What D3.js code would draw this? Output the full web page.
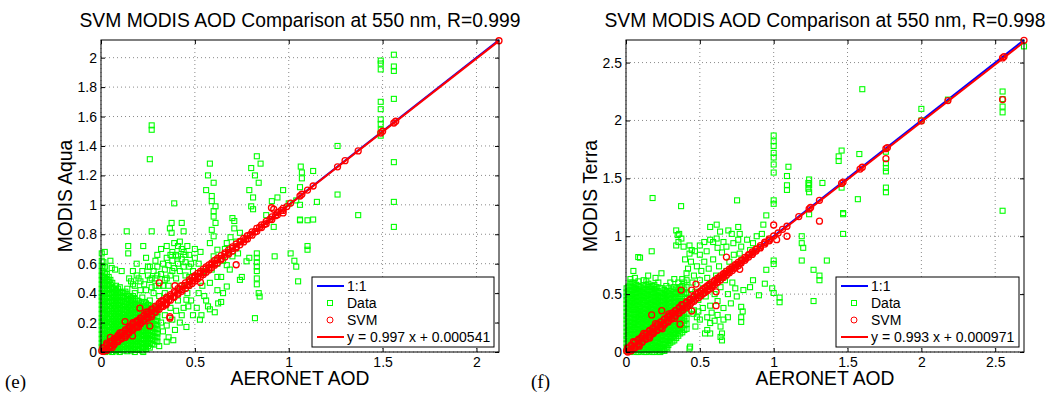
<!DOCTYPE html>
<html>
<head>
<meta charset="utf-8">
<script src="https://cdn.jsdelivr.net/npm/d3@7"></script>
<style>
  body { margin: 0; background: #fff; }
  text { font-family: "Liberation Sans", Arial, Helvetica, sans-serif; fill: #000; }
</style>
</head>
<body>
<svg id="chart" width="1054" height="398"></svg>
<script>
// ---- data ----
const aquaTitle = 'SVM MODIS AOD Comparison at 550 nm, R=0.999';
const terraTitle = 'SVM MODIS AOD Comparison at 550 nm, R=0.998';
const legendNames = ['1:1', 'Data', 'SVM'];

const aquaMax = 2.12;
const terraMax = 2.695;
const aquaXTicks = [0, 0.5, 1, 1.5, 2];
const aquaYTicks = [0, 0.2, 0.4, 0.6, 0.8, 1, 1.2, 1.4, 1.6, 1.8, 2];
const terraTicks = [0, 0.5, 1, 1.5, 2, 2.5];

// fit: [slope, intercept]
const aquaFit = [0.997, 0.000541];
const terraFit = [0.993, 0.000971];

// dense part of the green cloud, as [x, [y, ...]] columns
const aquaDataCore = [
  [0.004, [0.01,0.035,0.06,0.09,0.12,0.15,0.18,0.205,0.23,0.26,0.29,0.32,0.35,0.375,0.4,0.43,0.46,0.49,0.52,0.55,0.585,0.62,0.67]],
  [0.013, [0.015,0.045,0.07,0.1,0.125,0.155,0.18,0.21,0.235,0.265,0.29,0.32,0.345,0.375,0.4,0.43,0.455,0.485,0.51,0.54,0.57,0.61]],
  [0.022, [0.0,0.03,0.055,0.085,0.11,0.14,0.165,0.195,0.22,0.25,0.28,0.305,0.335,0.36,0.39,0.415,0.445,0.47,0.5,0.535,0.58]],
  [0.031, [0.015,0.04,0.07,0.095,0.125,0.15,0.18,0.205,0.235,0.26,0.29,0.315,0.345,0.37,0.4,0.43,0.46,0.49,0.53]],
  [0.041, [0.005,0.03,0.06,0.085,0.115,0.14,0.17,0.2,0.225,0.255,0.28,0.31,0.34,0.365,0.395,0.42,0.45,0.48,0.51]],
  [0.05, [0.015,0.04,0.07,0.095,0.125,0.15,0.18,0.205,0.235,0.26,0.29,0.315,0.345,0.37,0.4,0.43,0.46,0.49]],
  [0.06, [0.0,0.025,0.055,0.08,0.11,0.135,0.165,0.19,0.22,0.245,0.275,0.3,0.33,0.355,0.385,0.41,0.44,0.47]],
  [0.07, [0.015,0.045,0.07,0.1,0.125,0.155,0.18,0.21,0.235,0.26,0.29,0.315,0.345,0.375,0.4,0.43]],
  [0.08, [0.005,0.035,0.06,0.09,0.115,0.145,0.17,0.2,0.225,0.255,0.28,0.31,0.335,0.365,0.39,0.42,0.45]],
  [0.09, [0.015,0.04,0.07,0.095,0.125,0.15,0.18,0.205,0.235,0.26,0.29,0.32,0.345,0.375,0.4,0.43]],
  [0.1, [0.0,0.025,0.055,0.08,0.11,0.135,0.165,0.19,0.22,0.245,0.27,0.3,0.33,0.355,0.385,0.41,0.44]],
  [0.11, [0.02,0.045,0.07,0.1,0.125,0.155,0.18,0.21,0.235,0.26,0.29,0.315,0.345,0.37,0.4]],
  [0.12, [0.01,0.035,0.065,0.09,0.12,0.145,0.175,0.2,0.23,0.255,0.285,0.31,0.34,0.37,0.4]],
  [0.13, [0.02,0.05,0.075,0.105,0.13,0.16,0.185,0.215,0.24,0.27,0.295,0.325,0.35,0.38,0.41]],
  [0.14, [0.005,0.03,0.06,0.085,0.115,0.14,0.17,0.195,0.225,0.25,0.28,0.305,0.335,0.36,0.39,0.43]],
  [0.15, [0.02,0.045,0.075,0.1,0.13,0.155,0.185,0.21,0.24,0.265,0.295,0.32,0.35,0.38]],
  [0.16, [0.01,0.04,0.065,0.095,0.12,0.15,0.175,0.205,0.23,0.26,0.285,0.315,0.345,0.37]],
  [0.17, [0.02,0.05,0.075,0.1,0.13,0.155,0.185,0.21,0.24,0.265,0.295,0.32,0.35,0.38]],
  [0.18, [0.0,0.03,0.055,0.085,0.11,0.14,0.165,0.195,0.22,0.25,0.275,0.305,0.33,0.36,0.4]],
  [0.19, [0.015,0.045,0.07,0.1,0.125,0.155,0.18,0.21,0.235,0.265,0.29,0.32,0.35]],
  [0.2, [0.015,0.04,0.07,0.095,0.125,0.15,0.18,0.205,0.235,0.26,0.29,0.32,0.345]],
  [0.21, [0.025,0.055,0.08,0.11,0.135,0.165,0.19,0.22,0.245,0.275,0.3,0.33]],
  [0.22, [0.01,0.035,0.06,0.09,0.12,0.145,0.175,0.2,0.23,0.255,0.285,0.31,0.34,0.37]],
  [0.23, [0.03,0.06,0.085,0.115,0.14,0.17,0.195,0.225,0.25,0.28,0.31,0.34]],
  [0.24, [0.02,0.05,0.075,0.105,0.13,0.16,0.185,0.215,0.24,0.27,0.3,0.33]],
  [0.25, [0.04,0.065,0.095,0.12,0.15,0.175,0.205,0.23,0.26,0.29,0.32]],
  [0.26, [0.03,0.06,0.09,0.115,0.145,0.17,0.2,0.225,0.255,0.285,0.31,0.35]],
  [0.27, [0.055,0.085,0.11,0.14,0.165,0.195,0.22,0.25,0.28,0.3]],
  [0.28, [0.05,0.08,0.11,0.135,0.165,0.19,0.22,0.25,0.28,0.31]],
  [0.29, [0.075,0.1,0.13,0.155,0.185,0.21,0.24,0.27,0.29]],
  [0.3, [0.07,0.1,0.125,0.155,0.18,0.21,0.24,0.27,0.3]]
];

const aquaDataPts = [
  [0.02,0.68],[0.05,0.62],[0.057,0.57],[0.075,0.56],[0.11,0.55],[0.137,0.82],[0.145,0.72],[0.145,0.67],[0.17,0.55],[0.19,0.6],[0.225,0.72],
  [0.16,0.48],[0.18,0.45],[0.2,0.5],[0.21,0.42],[0.23,0.46],[0.25,0.52],[0.26,0.49],[0.27,0.44],[0.28,0.55],[0.29,0.5],[0.3,0.58],
  [0.31,0.45],[0.32,0.53],[0.33,0.6],[0.34,0.49],[0.34,0.56],[0.35,0.64],[0.36,0.59],[0.37,0.52],[0.38,0.62],[0.39,0.57],[0.4,0.66],
  [0.41,0.6],[0.42,0.55],[0.43,0.63],[0.44,0.58],[0.45,0.61],[0.3,0.66],[0.32,0.7],[0.35,0.72],[0.38,0.68],[0.39,0.74],[0.41,0.72],
  [0.42,0.75],[0.43,0.7],[0.45,0.66],[0.376,0.877],[0.43,0.877],[0.44,0.82],[0.367,0.84],[0.376,0.81],[0.26,0.58],[0.29,0.62],[0.24,0.64],[0.27,0.82],
  [0.15,0.5],[0.17,0.46],[0.19,0.52],[0.21,0.48],[0.22,0.55],[0.24,0.42],[0.25,0.58],[0.27,0.5],[0.28,0.4],[0.29,0.45],[0.3,0.52],
  [0.31,0.38],[0.33,0.45],[0.34,0.4],[0.35,0.5],[0.36,0.45],[0.37,0.66],[0.38,0.55],[0.4,0.5],[0.41,0.65],[0.42,0.45],[0.44,0.68],
  [0.45,0.52],[0.46,0.72],[0.48,0.6],[0.49,0.55],[0.5,0.7],[0.52,0.6],[0.53,0.68],[0.55,0.55],
  [0.47,0.66],[0.5,0.64],[0.47,0.58],[0.47,0.51],[0.465,0.45],[0.455,0.355],[0.465,0.31],[0.43,0.25],[0.394,0.15],[0.385,0.08],[0.33,0.14],
  [0.36,0.1],[0.35,0.07],[0.31,0.04],[0.225,0.0],[0.32,0.2],[0.34,0.25],[0.35,0.18],[0.37,0.3],[0.38,0.22],[0.4,0.28],[0.41,0.35],[0.42,0.2],
  [0.44,0.3],[0.46,0.4],[0.48,0.35],[0.49,0.25],[0.455,0.17],[0.527,0.22],[0.535,0.25],[0.58,0.29],[0.52,0.4],[0.51,0.3],[0.54,0.45],
  [0.59,1.025],[0.61,0.99],[0.6,0.957],[0.6,0.92],[0.61,0.877],[0.59,0.83],[0.6,0.786],[0.58,0.74],[0.62,0.695],[0.6,0.65],[0.62,0.6],
  [0.59,0.56],[0.62,0.51],[0.58,0.47],[0.62,0.42],[0.56,0.35],[0.57,0.31],[0.55,0.38],[0.58,1.28],[0.57,1.2],[0.6,1.15],[0.56,1.1],[0.59,1.06],
  [0.64,0.51],[0.67,0.445],[0.65,0.4],[0.64,0.34],[0.624,0.33],[0.606,0.27],[0.67,0.74],[0.7,0.91],[0.71,0.89],[0.71,0.84],[0.74,0.81],
  [0.67,0.59],[0.686,0.56],[0.73,0.67],[0.7,0.65],[0.75,0.51],[0.74,0.49],[0.79,0.64],[0.775,0.616],[0.66,0.7],[0.69,0.78],[0.72,0.75],[0.65,0.62],
  [0.8,0.99],[0.81,0.97],[0.83,0.67],[0.83,0.64],[0.83,0.61],[0.83,0.58],[0.83,0.55],[0.83,0.5],[0.83,0.46],[0.84,0.4],[0.845,0.377],[0.82,0.23],
  [0.83,1.33],[0.8,1.25],[0.82,1.2],[0.84,1.15],[0.79,1.1],[0.81,1.05],[0.85,1.28],
  [0.925,0.65],[1.01,0.67],[1.06,0.9],[1.1,0.72],[1.1,0.695],[1.04,1.03],[1.0,1.01],[0.91,1.025],[0.39,1.01],[0.94,1.05],[0.97,1.1],
  [1.03,0.62],[1.04,0.58],[1.05,0.48],[0.92,0.85],[0.88,0.93],
  [1.064,1.26],[1.07,1.22],[1.07,1.18],[1.06,1.12],[1.13,1.23],[1.26,1.4],[1.26,1.07],[1.15,1.02],[1.06,1.0],[1.06,0.895],[1.1,0.895],[1.13,0.9],[1.37,0.93],
  [1.49,1.98],[1.49,1.96],[1.49,1.92],[1.49,1.7],[1.49,1.65],[1.49,1.58],[1.49,1.55],[1.49,1.51],[1.49,1.47],
  [1.56,2.02],[1.56,1.94],[1.56,1.91],[1.56,1.72],[1.56,1.29],[1.56,1.02],[1.56,0.85],
  [0.27,1.54],[0.27,1.51],[0.26,1.31]
];

const aquaSvm = [
  [0.004,0.008],[0.012,0.004],[0.018,0.028],[0.026,0.014],[0.032,0.044],[0.04,0.03],[0.046,0.058],[0.054,0.042],[0.06,0.072],[0.068,0.056],
  [0.074,0.088],[0.082,0.07],[0.088,0.1],[0.096,0.084],[0.102,0.116],[0.11,0.098],[0.116,0.13],[0.124,0.112],[0.13,0.144],[0.138,0.126],
  [0.144,0.158],[0.152,0.14],[0.158,0.172],[0.166,0.154],[0.172,0.186],[0.18,0.168],[0.186,0.2],[0.194,0.182],[0.2,0.214],[0.208,0.196],
  [0.214,0.228],[0.222,0.21],[0.228,0.242],[0.236,0.224],[0.244,0.256],[0.252,0.24],[0.26,0.272],[0.268,0.256],[0.276,0.288],[0.284,0.272],
  [0.292,0.302],[0.3,0.29],[0.31,0.322],[0.32,0.31],[0.33,0.34],[0.34,0.33],[0.35,0.36],[0.36,0.352],[0.372,0.38],[0.384,0.376],
  [0.396,0.404],[0.408,0.4],[0.42,0.428],[0.432,0.424],[0.446,0.452],[0.46,0.456],[0.474,0.48],[0.488,0.484],[0.502,0.508],[0.516,0.512],
  [0.53,0.536],[0.545,0.54],[0.56,0.566],[0.575,0.57],[0.59,0.596],[0.605,0.6],[0.62,0.625],[0.64,0.636],[0.66,0.664],[0.68,0.676],
  [0.7,0.704],[0.72,0.716],[0.745,0.748],[0.77,0.766],[0.795,0.798],[0.82,0.816],[0.845,0.848],[0.87,0.866],[0.9,0.902],[0.93,0.926],
  [0.96,0.962],[0.99,0.988],[1.01,1.012],[1.06,1.06],[1.07,1.072],[1.1,1.1],[1.13,1.128],[1.26,1.258],[1.3,1.3],[1.37,1.366],
  [1.49,1.488],[1.5,1.5],[1.56,1.556],[1.57,1.568],[2.12,2.115],
  [0.01,0.03],[0.03,0.05],[0.05,0.072],[0.07,0.092],[0.09,0.112],[0.11,0.132],[0.13,0.152],[0.15,0.172],[0.17,0.192],[0.19,0.212],
  [0.21,0.232],[0.23,0.252],[0.25,0.272],[0.27,0.292],[0.29,0.312],[0.31,0.332],[0.33,0.352],[0.35,0.372],[0.37,0.39],[0.39,0.41],
  [0.41,0.43],[0.43,0.45],[0.45,0.47],[0.47,0.49],[0.5,0.518],[0.53,0.548],[0.56,0.578],[0.59,0.606],[0.62,0.636],[0.66,0.674],
  [0.7,0.714],[0.74,0.752],[0.78,0.79],[0.83,0.84],[0.88,0.888],[0.94,0.948],
  [0.485,0.505],[0.515,0.534],[0.545,0.563],[0.575,0.592],[0.605,0.622],[0.64,0.655],[0.68,0.694],[0.72,0.734],[0.76,0.772],
  [0.805,0.816],[0.855,0.864],[0.91,0.918],[0.97,0.976],
  [0.03,0.01],[0.05,0.03],[0.07,0.05],[0.09,0.07],[0.11,0.09],[0.13,0.11],[0.15,0.13],[0.17,0.15],[0.19,0.17],[0.21,0.19],
  [0.23,0.21],[0.25,0.23],[0.27,0.25],[0.29,0.27],[0.31,0.29],[0.33,0.31],[0.35,0.33],[0.37,0.352],[0.39,0.372],[0.41,0.392],
  [0.43,0.412],[0.45,0.432],[0.47,0.452],[0.5,0.482],[0.53,0.512],[0.56,0.542],[0.59,0.574],[0.62,0.604],[0.66,0.646],[0.7,0.686],
  [0.74,0.728],[0.78,0.768],[0.83,0.82],[0.88,0.872],[0.94,0.932],
  [0.485,0.466],[0.515,0.497],[0.545,0.527],[0.575,0.558],[0.605,0.59],[0.64,0.626],[0.68,0.666],[0.72,0.707],[0.76,0.748],
  [0.805,0.794],[0.855,0.846],[0.91,0.9],[0.97,0.962],
  [0.03,0.06],[0.06,0.03],[0.1,0.13],[0.13,0.1],[0.17,0.2],[0.2,0.17],[0.24,0.27],[0.27,0.24],[0.32,0.345],[0.345,0.32],
  [0.05,0.1],[0.128,0.207],[0.168,0.109],[0.207,0.298],[0.26,0.177],[0.31,0.47],[0.367,0.23],[0.367,0.24],[0.394,0.45],
  [0.53,0.473],[0.72,0.593],[0.908,0.98],[0.92,0.97],[0.97,0.945]
];

const terraDataCore = [
  [0.004, [0.01,0.04,0.075,0.11,0.14,0.175,0.21,0.245,0.28,0.31,0.345,0.38,0.415,0.45,0.48,0.515,0.55]],
  [0.017, [0.02,0.055,0.09,0.125,0.16,0.19,0.225,0.26,0.295,0.33,0.36,0.395,0.43,0.465,0.5,0.53,0.565]],
  [0.03, [0.0,0.035,0.065,0.1,0.135,0.17,0.2,0.235,0.27,0.3,0.335,0.37,0.405,0.44,0.47,0.505,0.54,0.575,0.6]],
  [0.044, [0.02,0.05,0.085,0.12,0.155,0.19,0.22,0.255,0.29,0.325,0.36,0.39,0.425,0.46,0.495,0.53,0.565,0.6]],
  [0.057, [0.015,0.05,0.08,0.115,0.15,0.185,0.215,0.25,0.285,0.32,0.35,0.385,0.42,0.455,0.49,0.52,0.555,0.59]],
  [0.07, [0.0,0.035,0.065,0.1,0.135,0.17,0.2,0.235,0.27,0.305,0.34,0.37,0.405,0.44,0.475,0.51,0.545,0.58]],
  [0.084, [0.0,0.03,0.065,0.1,0.13,0.165,0.2,0.235,0.265,0.3,0.335,0.37,0.4,0.435,0.47,0.505,0.54,0.57,0.61]],
  [0.097, [0.015,0.05,0.085,0.12,0.15,0.185,0.22,0.255,0.285,0.32,0.355,0.39,0.42,0.455,0.49,0.525,0.56]],
  [0.111, [0.015,0.045,0.08,0.115,0.15,0.18,0.215,0.25,0.285,0.315,0.35,0.385,0.42,0.45,0.485,0.52,0.55]],
  [0.124, [0.0,0.03,0.065,0.1,0.135,0.165,0.2,0.235,0.27,0.3,0.335,0.37,0.405,0.435,0.47,0.505,0.54,0.575]],
  [0.138, [0.0,0.03,0.065,0.1,0.135,0.165,0.2,0.235,0.27,0.3,0.335,0.37,0.405,0.44,0.47,0.505,0.54,0.58,0.61]],
  [0.151, [0.015,0.05,0.085,0.12,0.15,0.185,0.22,0.255,0.285,0.32,0.355,0.39,0.42,0.455,0.49,0.525,0.56,0.59]],
  [0.165, [0.015,0.05,0.08,0.115,0.15,0.185,0.215,0.25,0.285,0.32,0.35,0.385,0.42,0.455,0.49,0.52,0.56]],
  [0.178, [0.0,0.03,0.065,0.1,0.135,0.165,0.2,0.235,0.27,0.3,0.335,0.37,0.405,0.435,0.47,0.505,0.54,0.57]],
  [0.192, [0.0,0.035,0.065,0.1,0.135,0.17,0.2,0.235,0.27,0.305,0.335,0.37,0.405,0.44,0.475,0.51,0.545,0.58]],
  [0.205, [0.015,0.05,0.085,0.12,0.15,0.185,0.22,0.255,0.285,0.32,0.355,0.39,0.42,0.455,0.49,0.525,0.56]],
  [0.219, [0.02,0.05,0.085,0.12,0.155,0.185,0.22,0.255,0.29,0.32,0.355,0.39,0.425,0.46,0.49,0.525,0.6]],
  [0.232, [0.0,0.035,0.07,0.1,0.135,0.17,0.205,0.235,0.27,0.305,0.34,0.37,0.405,0.44,0.475,0.51,0.55]],
  [0.246, [0.01,0.04,0.07,0.105,0.14,0.17,0.205,0.24,0.275,0.305,0.34,0.375,0.41,0.445,0.48,0.51,0.55]],
  [0.26, [0.025,0.06,0.09,0.125,0.16,0.195,0.225,0.26,0.295,0.33,0.36,0.395,0.43,0.465,0.5,0.535]],
  [0.273, [0.04,0.075,0.11,0.14,0.175,0.21,0.245,0.28,0.31,0.345,0.38,0.415,0.45,0.485,0.52,0.57]],
  [0.287, [0.06,0.095,0.13,0.16,0.195,0.23,0.265,0.295,0.33,0.365,0.4,0.435,0.47,0.505,0.55]],
  [0.3, [0.08,0.115,0.15,0.18,0.215,0.25,0.285,0.315,0.35,0.385,0.42,0.455,0.49,0.525,0.6]],
  [0.314, [0.09,0.125,0.16,0.19,0.225,0.26,0.295,0.325,0.36,0.395,0.43,0.465,0.5,0.54]],
  [0.327, [0.1,0.135,0.17,0.205,0.24,0.27,0.305,0.34,0.375,0.41,0.445,0.48,0.52,0.56,0.63]],
  [0.34, [0.12,0.155,0.19,0.225,0.26,0.29,0.325,0.36,0.395,0.43,0.47,0.51,0.55]],
  [0.354, [0.14,0.18,0.21,0.245,0.28,0.32,0.35,0.39,0.42,0.46,0.5,0.54,0.6]],
  [0.367, [0.16,0.195,0.23,0.265,0.3,0.335,0.37,0.405,0.44,0.48,0.52,0.56]],
  [0.381, [0.17,0.21,0.25,0.28,0.32,0.36,0.4,0.44,0.48,0.52,0.57,0.63]],
  [0.395, [0.19,0.23,0.27,0.305,0.34,0.38,0.42,0.46,0.5,0.54,0.6]],
  [0.41, [0.2,0.24,0.29,0.33,0.38,0.42,0.47,0.51,0.56,0.62,0.68]]
];

const terraDataPts = [
  [0.083,0.82],[0.095,0.815],[0.174,0.87],[0.18,1.33],[0.373,1.26],[0.752,1.31],[0.03,0.63],[0.06,0.64],[0.12,0.62],[0.15,0.66],[0.2,0.64],[0.24,0.68],[0.05,0.7],
  [0.34,1.05],[0.35,1.01],[0.36,1.02],[0.375,0.98],[0.355,0.95],[0.34,0.92],[0.39,0.91],[0.43,0.92],[0.445,0.88],[0.467,0.87],
  [0.5,0.84],[0.546,0.87],[0.57,0.97],[0.59,0.95],[0.614,0.98],[0.637,1.04],[0.693,1.05],[0.716,1.02],[0.727,0.94],[0.68,0.91],[0.57,1.08],[0.614,1.1],
  [0.76,1.08],[0.77,1.02],[0.76,0.97],[0.78,0.91],[0.77,0.85],[0.78,0.79],
  [0.82,0.97],[0.84,0.88],[0.86,0.94],[0.885,1.0],[0.92,1.02],[0.93,1.1],[0.95,1.18],[1.0,1.31],[1.0,1.28],[1.09,1.44],[1.09,1.4],
  [1.235,1.46],[1.235,1.41],[1.19,1.0],[1.19,0.94],[1.2,0.9],[1.19,0.79],[1.27,0.71],[1.31,0.66],[1.31,0.62],[1.36,0.79],[1.27,0.44],
  [1.47,1.2],[1.47,1.02],[1.0,0.79],[1.0,0.76],[0.95,0.71],[0.94,0.59],[0.99,0.55],[1.0,0.51],[1.04,0.47],[1.04,0.43],[0.9,0.49],
  [0.84,0.56],[0.86,0.62],[0.795,0.535],[0.75,0.48],[0.78,0.39],[0.79,0.35],[0.78,0.3],[0.78,0.26],[0.64,0.22],[0.65,0.16],[0.64,0.13],
  [0.65,0.1],[0.57,0.25],[0.55,0.19],[0.535,0.16],[0.57,0.16],[0.434,0.046],[0.43,0.03],[0.5,0.28],[0.47,0.22],[0.456,0.33],[0.49,0.35],
  [0.23,0.0],[0.26,0.01],[0.28,0.03],
  [0.42,0.72],[0.44,0.78],[0.45,0.6],[0.46,0.66],[0.47,0.52],[0.48,0.74],[0.49,0.45],[0.5,0.62],[0.51,0.7],[0.52,0.55],[0.53,0.78],
  [0.54,0.48],[0.55,0.64],[0.56,0.72],[0.57,0.4],[0.58,0.58],[0.59,0.8],[0.6,0.5],[0.61,0.66],[0.62,0.44],[0.63,0.74],[0.64,0.56],
  [0.65,0.86],[0.66,0.38],[0.67,0.62],[0.68,0.7],[0.69,0.5],[0.7,0.78],[0.71,0.42],[0.72,0.6],[0.73,0.84],[0.74,0.55],[0.42,0.4],
  [0.44,0.5],[0.46,0.36],[0.48,0.3],[0.52,0.38],[0.55,0.3],[0.58,0.34],[0.6,0.27],[0.62,0.32],[0.66,0.28],[0.69,0.3],[0.4,0.8],
  [0.43,0.85],[0.5,0.92],[0.53,0.95],[0.62,0.9],[0.66,0.95],
  [1.0,1.87],[1.0,1.82],[1.0,1.78],[1.0,1.72],[1.0,1.68],[1.0,1.62],[1.0,1.55],[1.09,1.52],[1.1,1.6],
  [1.6,2.27],[2.0,2.1],[2.55,2.25],[2.55,2.185],[2.55,2.12],[2.55,2.07],[2.55,1.22],[1.46,1.74],[1.44,1.69],[1.44,1.65],[1.58,1.71],
  [1.76,1.73],[1.76,1.63],[1.76,1.59],[1.76,1.56],[1.76,1.42],[1.76,1.38],[1.57,1.32],[1.47,1.19],[1.24,1.49],[1.24,1.44],[1.24,1.38],
  [1.33,1.46],[1.24,1.19],[1.46,1.42],[2.695,2.64],[2.18,2.18],[2.0,2.0]
];

const terraSvm = [
  [0.004,0.01],[0.012,0.0],[0.02,0.035],[0.03,0.012],[0.04,0.055],[0.05,0.03],[0.06,0.078],[0.07,0.05],[0.08,0.098],[0.09,0.07],
  [0.1,0.12],[0.11,0.09],[0.12,0.14],[0.13,0.112],[0.14,0.16],[0.15,0.13],[0.16,0.18],[0.17,0.152],[0.18,0.2],[0.19,0.172],
  [0.2,0.22],[0.21,0.192],[0.22,0.24],[0.23,0.212],[0.24,0.26],[0.25,0.232],[0.26,0.28],[0.27,0.252],[0.28,0.3],[0.29,0.272],
  [0.3,0.318],[0.31,0.294],[0.32,0.338],[0.33,0.314],[0.34,0.358],[0.35,0.334],[0.36,0.376],[0.372,0.356],[0.384,0.4],[0.396,0.38],
  [0.408,0.424],[0.42,0.404],[0.432,0.446],[0.444,0.43],[0.456,0.47],[0.47,0.456],[0.484,0.496],[0.498,0.484],[0.512,0.524],[0.526,0.512],
  [0.54,0.552],[0.555,0.54],[0.57,0.58],[0.585,0.572],[0.6,0.61],[0.615,0.602],[0.63,0.64],[0.65,0.642],[0.67,0.678],[0.69,0.684],
  [0.71,0.718],[0.73,0.724],[0.75,0.756],[0.77,0.764],[0.79,0.796],[0.81,0.806],[0.835,0.84],[0.86,0.856],[0.885,0.888],[0.91,0.906],
  [0.94,0.944],[0.97,0.966],[1.0,1.002],[1.03,1.028],[1.06,1.06],[1.09,1.086],[1.17,1.17],[1.24,1.236],[1.25,1.248],[1.31,1.31],
  [1.46,1.456],[1.47,1.468],[1.585,1.58],[1.6,1.596],[1.76,1.756],[1.77,1.766],[2.0,1.996],[2.18,2.172],[2.55,2.54],[2.56,2.552],[2.695,2.692],
  [0.01,0.035],[0.035,0.06],[0.06,0.086],[0.085,0.11],[0.11,0.136],[0.135,0.16],[0.16,0.186],[0.185,0.21],[0.21,0.236],[0.235,0.26],
  [0.26,0.286],[0.285,0.31],[0.31,0.336],[0.335,0.36],[0.36,0.386],[0.385,0.41],[0.41,0.434],[0.435,0.458],[0.46,0.482],[0.49,0.512],
  [0.52,0.54],[0.55,0.57],[0.58,0.6],[0.62,0.638],[0.66,0.676],[0.7,0.716],[0.74,0.754],[0.78,0.792],[0.83,0.84],[0.88,0.888],[0.94,0.948],
  [0.505,0.526],[0.535,0.555],[0.565,0.585],[0.6,0.618],[0.64,0.657],[0.68,0.696],[0.72,0.735],[0.76,0.774],[0.805,0.817],[0.855,0.865],[0.91,0.918],[0.97,0.977],
  [0.035,0.01],[0.06,0.035],[0.085,0.06],[0.11,0.085],[0.135,0.11],[0.16,0.135],[0.185,0.16],[0.21,0.185],[0.235,0.21],[0.26,0.235],
  [0.285,0.26],[0.31,0.285],[0.335,0.31],[0.36,0.335],[0.385,0.36],[0.41,0.386],[0.435,0.412],[0.46,0.438],[0.49,0.468],[0.52,0.5],
  [0.55,0.53],[0.58,0.56],[0.62,0.602],[0.66,0.644],[0.7,0.684],[0.74,0.726],[0.78,0.768],[0.83,0.82],[0.88,0.872],[0.94,0.932],
  [0.505,0.484],[0.535,0.515],[0.565,0.545],[0.6,0.581],[0.64,0.622],[0.68,0.663],[0.72,0.704],[0.76,0.745],[0.805,0.792],[0.855,0.843],[0.91,0.899],[0.97,0.96],
  [0.05,0.09],[0.09,0.05],[0.12,0.16],[0.16,0.12],[0.2,0.245],[0.245,0.2],[0.29,0.33],[0.33,0.29],
  [0.174,0.32],[0.18,0.175],[0.242,0.357],[0.366,0.24],[0.373,0.535],[0.377,0.41],[0.445,0.535],[0.445,0.354],[0.474,0.587],
  [0.61,0.52],[0.61,0.4],[0.68,0.82],[0.77,0.714],[1.0,1.097],[1.02,0.97],[1.09,1.0],[1.31,1.13],[1.76,1.67],[2.55,2.18]
];

// ---- drawing ----
const svg = d3.select('#chart');
const GREEN = '#00ff00', RED = '#ff0000', BLUE = '#0000ff';
const fmt = d => String(d);
const flatten = cols => cols.flatMap(([x, ys]) => ys.map(y => [x, y]));

const panels = [
  { max: aquaMax, left: 101, right: 499, top: 40, bottom: 352,
    xTicks: aquaXTicks, yTicks: aquaYTicks, title: aquaTitle, yLabel: 'MODIS Aqua', yLabelX: 72,
    tag: '(e)', tagX: 5, data: flatten(aquaDataCore).concat(aquaDataPts), svm: aquaSvm, fit: aquaFit,
    legend: { x: 312, y: 277, w: 182, h: 70 } },
  { max: terraMax, left: 626, right: 1024, top: 40, bottom: 352,
    xTicks: terraTicks, yTicks: terraTicks, title: terraTitle, yLabel: 'MODIS Terra', yLabelX: 597,
    tag: '(f)', tagX: 531, data: flatten(terraDataCore).concat(terraDataPts), svm: terraSvm, fit: terraFit,
    legend: { x: 836, y: 277, w: 183, h: 70 } }
];

panels.forEach(p => {
  const x = d3.scaleLinear().domain([0, p.max]).range([p.left, p.right]);
  const y = d3.scaleLinear().domain([0, p.max]).range([p.bottom, p.top]);
  const g = svg.append('g');
  const cx = (p.left + p.right) / 2;

  // dotted grid
  g.selectAll('.gx').data(p.xTicks).enter().append('line')
    .attr('x1', d => x(d)).attr('x2', d => x(d))
    .attr('y1', p.top).attr('y2', p.bottom)
    .attr('stroke', '#8a8a8a').attr('stroke-width', 1).attr('stroke-dasharray', '1,3');
  g.selectAll('.gy').data(p.yTicks).enter().append('line')
    .attr('y1', d => y(d)).attr('y2', d => y(d))
    .attr('x1', p.left).attr('x2', p.right)
    .attr('stroke', '#8a8a8a').attr('stroke-width', 1).attr('stroke-dasharray', '1,3');

  // 1:1 line
  const line = d3.line().x(d => x(d[0])).y(d => y(d[1]));
  g.append('path').datum([[0, 0], [p.max, p.max]])
    .attr('d', line).attr('stroke', BLUE).attr('stroke-width', 2).attr('fill', 'none');

  // data squares
  g.selectAll('.dat').data(p.data).enter().append('rect')
    .attr('x', d => x(d[0]) - 2.5).attr('y', d => y(d[1]) - 2.5)
    .attr('width', 5).attr('height', 5)
    .attr('fill', 'none').attr('stroke', GREEN).attr('stroke-width', 1.1);

  // svm circles
  g.selectAll('.svm').data(p.svm).enter().append('circle')
    .attr('cx', d => x(d[0])).attr('cy', d => y(d[1])).attr('r', 3)
    .attr('fill', 'none').attr('stroke', RED).attr('stroke-width', 1.3);

  // fit line
  const xEnd = d3.max(p.svm, d => d[0]);
  g.append('path').datum([[0, p.fit[1]], [xEnd, p.fit[0] * xEnd + p.fit[1]]])
    .attr('d', line).attr('stroke', RED).attr('stroke-width', 2).attr('fill', 'none');

  // axes
  const styleAxis = sel => {
    sel.select('.domain').remove();
    sel.selectAll('.tick line').attr('stroke', '#000');
    sel.selectAll('.tick text').attr('font-size', 14).attr('fill', '#000');
  };
  g.append('g').attr('transform', `translate(0,${p.bottom})`)
    .call(d3.axisBottom(x).tickValues(p.xTicks).tickFormat(fmt).tickSize(-4).tickPadding(5)).call(styleAxis);
  g.append('g').attr('transform', `translate(0,${p.top})`)
    .call(d3.axisTop(x).tickValues(p.xTicks).tickFormat('').tickSize(-4)).call(styleAxis);
  g.append('g').attr('transform', `translate(${p.left},0)`)
    .call(d3.axisLeft(y).tickValues(p.yTicks).tickFormat(fmt).tickSize(-4).tickPadding(4)).call(styleAxis);
  g.append('g').attr('transform', `translate(${p.right},0)`)
    .call(d3.axisRight(y).tickValues(p.yTicks).tickFormat('').tickSize(-4)).call(styleAxis);

  g.append('rect').attr('x', p.left).attr('y', p.top)
    .attr('width', p.right - p.left).attr('height', p.bottom - p.top)
    .attr('fill', 'none').attr('stroke', '#000').attr('stroke-width', 1);

  // texts
  g.append('text').attr('x', cx).attr('y', 27).attr('text-anchor', 'middle')
    .attr('font-size', 19.3).text(p.title);
  g.append('text').attr('x', cx).attr('y', 385).attr('text-anchor', 'middle')
    .attr('font-size', 19.3).text('AERONET AOD');
  g.append('text').attr('transform', `translate(${p.yLabelX},${(p.top + p.bottom) / 2}) rotate(-90)`)
    .attr('text-anchor', 'middle').attr('font-size', 19.3).text(p.yLabel);
  g.append('text').attr('x', p.tagX).attr('y', 388)
    .style('font-family', '"Liberation Serif", "Times New Roman", serif').attr('font-size', 19).text(p.tag);

  // legend
  const L = p.legend;
  const lg = g.append('g').attr('transform', `translate(${L.x},${L.y})`);
  lg.append('rect').attr('width', L.w).attr('height', L.h)
    .attr('fill', '#fff').attr('stroke', '#000').attr('stroke-width', 1);
  const rows = [9, 26, 43, 60];
  const names = legendNames.concat([`y = ${p.fit[0]} x + ${p.fit[1]}`]);
  lg.append('line').attr('x1', 5).attr('x2', 32).attr('y1', rows[0]).attr('y2', rows[0])
    .attr('stroke', BLUE).attr('stroke-width', 2);
  lg.append('rect').attr('x', 18 - 2.5).attr('y', rows[1] - 2.5).attr('width', 5).attr('height', 5)
    .attr('fill', 'none').attr('stroke', GREEN);
  lg.append('circle').attr('cx', 18).attr('cy', rows[2]).attr('r', 3)
    .attr('fill', 'none').attr('stroke', RED);
  lg.append('line').attr('x1', 5).attr('x2', 32).attr('y1', rows[3]).attr('y2', rows[3])
    .attr('stroke', RED).attr('stroke-width', 2);
  lg.selectAll('.lt').data(names).enter().append('text')
    .attr('x', 35).attr('y', (d, i) => rows[i]).attr('dy', '0.35em')
    .attr('font-size', 14).text(d => d);
});
</script>
</body>
</html>
